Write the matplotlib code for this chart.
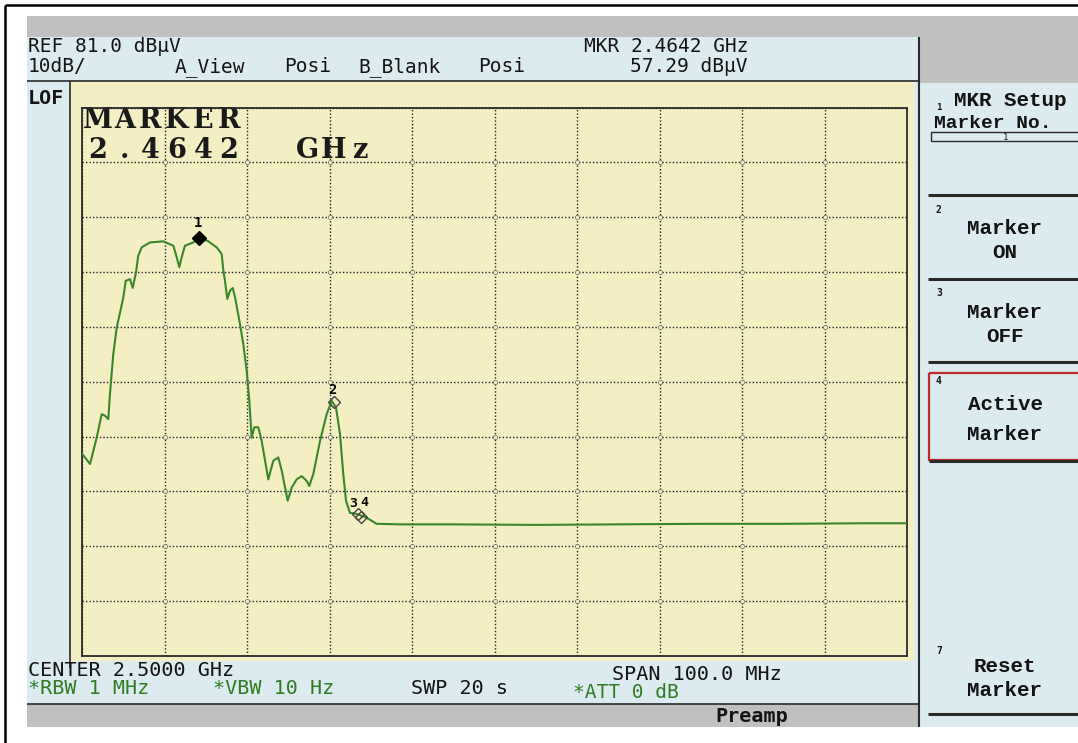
import matplotlib
matplotlib.use("Agg")
from matplotlib import pyplot as plt
from matplotlib.patches import Rectangle
import numpy as np

# Trace: frequency (MHz) and level (dBuV)
freq_mhz = [2450.0, 2450.97, 2451.78, 2452.39, 2452.79, 2453.19, 2453.39, 2453.79,
            2454.21, 2454.61, 2455.01, 2455.30, 2455.82, 2456.15, 2456.55, 2456.82,
            2457.24, 2458.24, 2459.85, 2461.07, 2461.48, 2461.79, 2462.08, 2462.48,
            2463.49, 2464.2, 2465.31, 2466.33, 2466.93, 2467.13, 2467.33, 2467.61,
            2467.94, 2468.27, 2468.55, 2469.15, 2469.55, 2469.96, 2470.28, 2470.57,
            2470.88, 2471.37, 2471.78, 2472.58, 2473.19, 2473.79, 2474.21, 2474.93,
            2475.42, 2476.02, 2476.63, 2477.24, 2477.55, 2478.04, 2478.85, 2479.66,
            2480.27, 2480.79, 2481.27, 2481.67, 2482.00, 2482.48, 2483.30, 2484.51,
            2485.72, 2488.55, 2495.0, 2505.0, 2515.0, 2525.0, 2535.0, 2545.0,
            2550.0]
level_dbuv = [17.9, 16.0, 20.8, 25.1, 24.8, 24.2, 28.8, 36.0,
              40.9, 43.6, 46.4, 49.4, 49.7, 48.1, 51.0, 54.0,
              55.5, 56.4, 56.6, 55.8, 53.7, 51.9, 53.7, 55.8,
              56.4, 57.29, 56.6, 55.5, 54.3, 51.3, 49.4, 46.1,
              47.6, 48.1, 46.4, 41.5, 37.9, 33.0, 27.5, 20.8,
              22.7, 22.7, 20.2, 13.2, 16.6, 17.2, 14.8, 9.3,
              11.7, 13.2, 13.8, 12.9, 12.0, 14.2, 20.2, 25.1,
              27.5, 26.3, 21.5, 14.2, 9.3, 7.1, 6.9, 6.2,
              5.1, 5.0, 5.0, 4.9, 5.0, 5.1, 5.1, 5.2,
              5.2]

mkr_labels = ["1", "2", "3", "4"]
mkr_freq = [2464.2, 2480.6, 2483.4, 2483.8]
mkr_level = [57.29, 27.3, 6.8, 6.3]

ref_level = 81.0
db_per_div = 10.0
center_mhz = 2500.0
span_mhz = 100.0

W, H = 1078, 743
fig = plt.figure(figsize=(W / 100, H / 100), dpi=100)
fig.patch.set_facecolor("white")

# background axes in pixel coordinates for the instrument screen
bg = fig.add_axes([0, 0, 1, 1])
bg.set_xlim(0, W)
bg.set_ylim(H, 0)
bg.axis("off")

blue = "#dcebef"
gray = "#c0c0c0"
yellow = "#f3efc3"
dark = "#2a2a2a"
green = "#2f7d22"

def box(x0, y0, x1, y1, fc, ec="none", lw=0):
    bg.add_patch(Rectangle((x0, y0), x1 - x0, y1 - y0, facecolor=fc,
                           edgecolor=ec, linewidth=lw))

def hline(y, x0, x1, lw=1.2, c=dark):
    bg.plot([x0, x1], [y, y], color=c, lw=lw, solid_capstyle="butt")

def vline(x, y0, y1, lw=1.2, c=dark):
    bg.plot([x, x], [y0, y1], color=c, lw=lw, solid_capstyle="butt")

# outer frame
vline(5, 5, 743, lw=1.8, c="black")
hline(5, 5, 1078, lw=1.8, c="black")

# screen panels
box(27, 16, W, 37, gray)
box(27, 37, W, 727, blue)
box(919, 37, W, 83, gray)
box(27, 704, 919, 727, gray)
box(70, 81, 914, 661, yellow)
hline(81, 27, 919)
vline(70, 81, 668)
vline(919, 37, 727, lw=1.5)
hline(704, 27, 919)

mono = "DejaVu Sans Mono"
fs = 14.5

def txt(x, y, s, c="#141414", size=fs, weight="normal", ha="left", fam=mono):
    bg.text(x, y, s, color=c, fontsize=size, fontweight=weight, ha=ha,
            va="center", family=fam, zorder=6)

# header
hs = 14
txt(28, 47, "REF 81.0 dBμV", size=hs)
txt(28, 67, "10dB/", size=hs)
txt(175, 67, "A_View", size=hs)
txt(284, 67, "Posi", size=hs)
txt(358, 67, "B_Blank", size=hs)
txt(478, 67, "Posi", size=hs)
txt(748, 47, "MKR 2.4642 GHz", ha="right", size=hs)
txt(748, 67, "57.29 dBμV", ha="right", size=hs)
txt(28, 99, "LOF", weight="bold")

# footer
txt(28, 671, "CENTER 2.5000 GHz")
txt(28, 688, "*RBW 1 MHz", c=green)
txt(213, 688, "*VBW 10 Hz", c=green)
txt(411, 688, "SWP 20 s")
txt(612, 674, "SPAN 100.0 MHz")
txt(573, 693, "*ATT 0 dB", c=green, size=14)
txt(752, 716, "Preamp", weight="bold", ha="center")

# soft-key menu
mb = "Liberation Mono"
txt(1010, 100, "MKR Setup", weight="bold", ha="center", fam=mb, size=15)
txt(936, 108, "1", size=6.5, weight="bold")
txt(934, 123, "Marker No.", weight="bold", size=14, fam=mb)
box(931, 132, W + 2, 141, "none", ec=dark, lw=1.0)
txt(1003, 137, "1", size=6.5)
hline(195, 928, W, lw=2.2)
txt(936, 210, "2", size=7, weight="bold")
txt(1005, 228, "Marker", weight="bold", ha="center", fam=mb, size=15)
txt(1005, 252, "ON", weight="bold", ha="center", fam=mb, size=15)
hline(279, 928, W, lw=2.2)
txt(936, 293, "3", size=7, weight="bold")
txt(1005, 313, "Marker", weight="bold", ha="center", fam=mb, size=15)
txt(1005, 337, "OFF", weight="bold", ha="center", fam=mb, size=15)
hline(362, 928, W, lw=2.2)
box(929, 373, W + 2, 460, "none", ec="#c0282a", lw=1.6)
hline(461, 929, W, lw=2.2)
txt(936, 381, "4", size=7, weight="bold")
txt(1005, 404, "Active", weight="bold", ha="center", fam=mb, size=15)
txt(1005, 434, "Marker", weight="bold", ha="center", fam=mb, size=15)
txt(936, 651, "7", size=7, weight="bold")
txt(1005, 667, "Reset", weight="bold", ha="center", fam=mb, size=15)
txt(1005, 691, "Marker", weight="bold", ha="center", fam=mb, size=15)
hline(714, 928, W, lw=2.2)

# trace axes placed on the graticule
gx0, gy0, gx1, gy1 = 82, 107.5, 907, 656
ax = fig.add_axes([gx0 / W, 1 - gy1 / H, (gx1 - gx0) / W, (gy1 - gy0) / H])
ax.set_facecolor("none")
fmin, fmax = center_mhz - span_mhz / 2, center_mhz + span_mhz / 2
lmin = ref_level - 10 * db_per_div
ax.set_xlim(fmin, fmax)
ax.set_ylim(lmin, ref_level)
xt = np.linspace(fmin, fmax, 11)
yt = np.linspace(lmin, ref_level, 11)
ax.set_xticks(xt)
ax.set_yticks(yt)
ax.tick_params(length=0, labelbottom=False, labelleft=False)
ax.grid(True, color="#222222", linestyle=(0, (1, 1.5)), linewidth=1.0)
for s in ax.spines.values():
    s.set_color(dark)
    s.set_linewidth(1.3)

# little rings where the graticule lines cross
gxx, gyy = np.meshgrid(xt[1:-1], yt[1:-1])
ax.plot(gxx.ravel(), gyy.ravel(), ls="none", marker="o", ms=3.0, mfc=yellow,
        mec="#666666", mew=0.5, zorder=2)

ax.plot(freq_mhz, level_dbuv, color="#3b862a", lw=1.5, zorder=3)

# markers
ax.plot(mkr_freq[0], mkr_level[0], marker="D", ms=7, color="black", zorder=4)
ax.plot(mkr_freq[1:], mkr_level[1:], ls="none", marker="D", ms=6, mfc="none",
        mec="#444444", mew=1.0, zorder=4)
ax.text(mkr_freq[0] - 0.15, mkr_level[0] + 1.4, mkr_labels[0], ha="center", va="bottom",
        fontsize=10, fontweight="bold", family=mono)
ax.text(mkr_freq[1] - 0.2, mkr_level[1] + 1.0, mkr_labels[1], ha="center", va="bottom",
        fontsize=10, fontweight="bold", family=mono)
ax.text(mkr_freq[2] - 0.5, mkr_level[2] + 0.9, mkr_labels[2], ha="center", va="bottom",
        fontsize=9.5, fontweight="bold", family=mono)
ax.text(mkr_freq[3] + 0.4, mkr_level[3] + 1.5, mkr_labels[3], ha="center", va="bottom",
        fontsize=9.5, fontweight="bold", family=mono)

# marker readout on the graticule, drawn on the instrument's fixed character pitch
pitch = 26.2
for line, yc in [("MARKER", 121), ("2.4642  GHz", 151)]:
    for i, ch in enumerate(line):
        if ch != " ":
            bg.text(85 + pitch * (i + 0.5), yc, ch, ha="center", va="center",
                    fontsize=19.5, fontweight="bold", family="DejaVu Serif",
                    color="#1a1a1a", zorder=5)

fig.savefig("out.png", dpi=100)
